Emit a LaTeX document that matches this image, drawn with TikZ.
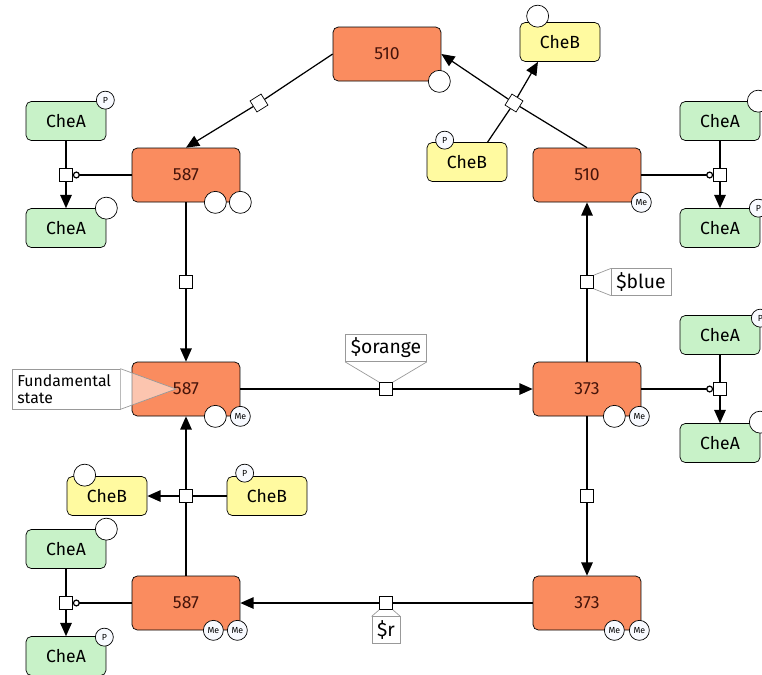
\documentclass[tikz,border=0pt]{standalone}
\usepackage{fontspec}
\setmainfont{Fira Sans}
\usetikzlibrary{arrows.meta,calc,positioning}
\definecolor{orangebox}{RGB}{250,140,95}
\definecolor{greenbox}{RGB}{200,242,200}
\definecolor{yellowbox}{RGB}{255,250,160}
\definecolor{sitefill}{RGB}{248,250,255}
\definecolor{statetext}{RGB}{70,20,10}

\begin{document}
\begin{tikzpicture}[x=0.02cm,y=-0.02cm,
  state/.style={draw, rounded corners=3pt, fill=orangebox, text=statetext, minimum width=2.16cm, minimum height=1.08cm, inner sep=0pt, font=\fontsize{10}{12}\selectfont},
  chea/.style={draw, rounded corners=3pt, fill=greenbox, minimum width=1.6cm, minimum height=0.78cm, inner sep=0pt, font=\fontsize{10}{12}\selectfont},
  cheb/.style={chea, fill=yellowbox},
  proc/.style={draw, fill=white, minimum size=0.26cm, inner sep=0pt},
  emptyst/.style={circle, draw, fill=white, minimum size=0.44cm, inner sep=0pt},
  pst/.style={circle, draw, fill=sitefill, minimum size=0.36cm, inner sep=0pt, font=\fontsize{5}{5}\selectfont},
  mest/.style={circle, draw, fill=sitefill, minimum size=0.4cm, inner sep=0pt, font=\fontsize{5}{5}\selectfont},
  arr/.style={-{Triangle[length=7.5pt,width=6.5pt]}, line width=0.7pt},
  lnk/.style={line width=0.7pt},
  cat/.style={-{Circle[open,length=4pt,fill=white]}, line width=0.7pt},
  tag/.style={draw=gray!80, fill=white, inner xsep=3pt, inner ysep=2pt, minimum height=15pt, font=\fontsize{11}{13}\selectfont},
  callout/.style={draw=gray!80, line width=0.4pt}
]
\useasboundingbox (0,0) rectangle (762,674);

% receptor states
\node[state] (s510t) at (387,54) {510};
\node[state] (s587a) at (186,175) {587};
\node[state] (s510r) at (587,175) {510};
\node[state] (s587b) at (186,389) {587};
\node[state] (s373a) at (587,389) {373};
\node[state] (s587c) at (186,603) {587};
\node[state] (s373b) at (587,603) {373};

% sites on the receptor states
\node[emptyst] (m1) at ($(s510t.south east)+(-2,0)$) {};
\node[emptyst] (m2) at ($(s587a.south east)+(-25,0)$) {};
\node[emptyst] (m3) at (s587a.south east) {};
\node[mest] (m4) at (s510r.south east) {Me};
\node[emptyst] (m5) at ($(s587b.south east)+(-25,0)$) {};
\node[mest] (m6) at (s587b.south east) {Me};
\node[emptyst] (m7) at ($(s373a.south east)+(-27,0)$) {};
\node[mest] (m8) at ($(s373a.south east)+(-2,0)$) {Me};
\node[mest] (m9) at ($(s587c.south east)+(-27,0)$) {Me};
\node[mest] (m10) at ($(s587c.south east)+(-3,0)$) {Me};
\node[mest] (m11) at ($(s373b.south east)+(-27,0)$) {Me};
\node[mest] (m12) at ($(s373b.south east)+(-2,0)$) {Me};

% CheA
\node[chea] (a1) at (66,121) {CheA};
\node[chea] (a2) at (66,228) {CheA};
\node[chea] (a3) at (720,121) {CheA};
\node[chea] (a4) at (720,228) {CheA};
\node[chea] (a5) at (720,335) {CheA};
\node[chea] (a6) at (720,443) {CheA};
\node[chea] (a7) at (66,549) {CheA};
\node[chea] (a8) at (66,656) {CheA};
\node[pst] (ap1) at ($(a1.north east)+(-1,-1)$) {P};
\node[emptyst] (ae2) at (a2.north east) {};
\node[emptyst] (ae3) at ($(a3.north east)+(-2,0)$) {};
\node[pst] (ap4) at ($(a4.north east)+(-2,0)$) {P};
\node[pst] (ap5) at ($(a5.north east)+(0,3)$) {P};
\node[emptyst] (ae6) at ($(a6.north east)+(0,-1)$) {};
\node[emptyst] (ae7) at (a7.north east) {};
\node[pst] (ap8) at ($(a8.north east)+(-2,1)$) {P};

% CheB
\node[cheb] (b1) at (560,42) {CheB};
\node[cheb] (b2) at (467,162) {CheB};
\node[cheb] (b3) at (107,496) {CheB};
\node[cheb] (b4) at (267,496) {CheB};
\node[emptyst] (be1) at ($(b1.north west)+(18,-6)$) {};
\node[pst] (bp2) at ($(b2.north west)+(18,-2)$) {P};
\node[emptyst] (be3) at ($(b3.north west)+(18,-1)$) {};
\node[pst] (bp4) at ($(b4.north west)+(18,-3)$) {P};

% process squares
\node[proc, rotate=32] (pM1) at (259,103) {};
\node[proc] (pM2) at (186,282) {};
\node[proc] (pM3) at (386,389) {};
\node[proc] (pM4) at (587,496) {};
\node[proc] (pM5) at (386,603) {};
\node[proc] (pM6) at (587,282) {};
\node[proc, rotate=-32] (pB1) at (514,103) {};
\node[proc] (pB2) at (186,496) {};
\node[proc] (pA1) at (66,175) {};
\node[proc] (pA2) at (720,175) {};
\node[proc] (pA3) at (720,389) {};
\node[proc] (pA4) at (66,603) {};

% receptor cycle
\draw[lnk] (s510t.west) -- (pM1);
\draw[arr] (pM1) -- (s587a.north);
\draw[lnk] (s587a) -- (pM2);
\draw[arr] (pM2) -- (s587b);
\draw[lnk] (s587b) -- (pM3);
\draw[arr] (pM3) -- (s373a);
\draw[lnk] (s373a) -- (pM4);
\draw[arr] (pM4) -- (s373b);
\draw[lnk] (s373b) -- (pM5);
\draw[arr] (pM5) -- (s587c);
\draw[lnk] (s587c) -- (pB2);
\draw[arr] (pB2) -- (s587b);
\draw[lnk] (s373a) -- (pM6);
\draw[arr] (pM6) -- (s510r);
\draw[lnk] (s510r.north) -- (pB1);
\draw[arr] (pB1) -- (s510t.east);

% CheB reactions
\draw[lnk] (b2.44) -- (pB1);
\draw[arr] (pB1) -- (b1.222);
\draw[lnk] (b4) -- (pB2);
\draw[arr] (pB2) -- (b3);

% CheA reactions
\draw[lnk] (a1) -- (pA1);
\draw[arr] (pA1) -- (a2);
\draw[cat] (s587a) -- (pA1);
\draw[lnk] (a3) -- (pA2);
\draw[arr] (pA2) -- (a4);
\draw[cat] (s510r) -- (pA2);
\draw[lnk] (a5) -- (pA3);
\draw[arr] (pA3) -- (a6);
\draw[cat] (s373a) -- (pA3);
\draw[lnk] (a7) -- (pA4);
\draw[arr] (pA4) -- (a8);
\draw[cat] (s587c) -- (pA4);

% rate labels
\node[tag] (lblO) at (386,348) {\$orange};
\node[tag] (lblB) at (641,282) {\$blue};
\node[tag] (lblR) at (386,630) {\$r};
\draw[callout] (lblO.south west) -- (pM3.north west);
\draw[callout] (lblO.south east) -- (pM3.north east);
\draw[callout] (pM6.north east) -- (lblB.north west);
\draw[callout] (pM6.south east) -- (lblB.south west);
\draw[callout] (pM5.south west) -- (lblR.north west);
\draw[callout] (pM5.south east) -- (lblR.north east);

% note
\node[tag, font=\fontsize{9}{10}\selectfont, align=left, text width=1.95cm, minimum height=0.8cm] (fund) at (66,389) {Fundamental\\state};
\coordinate (tip) at ($(s587b.center)+(-10,0)$);
\fill[white, opacity=0.5] (fund.north east) -- (tip) -- (fund.south east) -- cycle;
\draw[callout] (fund.north east) -- (tip) -- (fund.south east);
\end{tikzpicture}
\end{document}
